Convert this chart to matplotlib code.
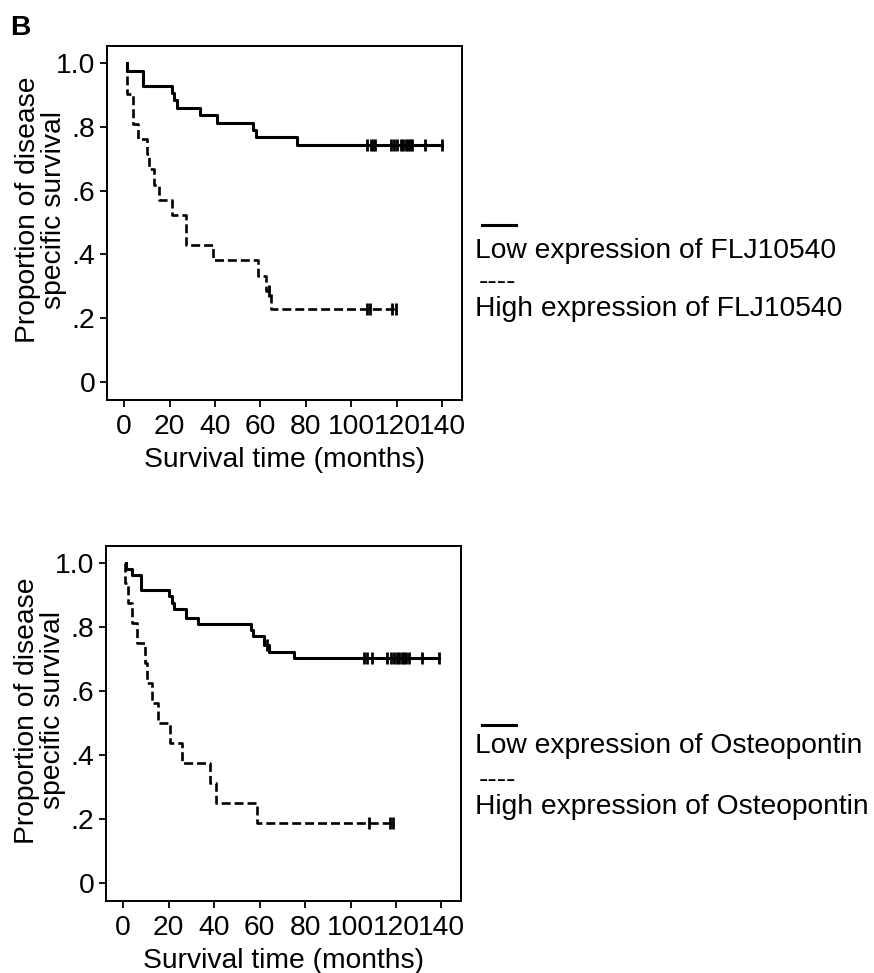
import matplotlib
matplotlib.use('Agg')
from matplotlib import pyplot as plt
from matplotlib.lines import Line2D

plt.rcParams['font.family'] = ['Liberation Sans', 'DejaVu Sans']

# --- data (months, proportion surviving) ---
# top panel: FLJ10540
flj_low_t = [1.2, 1.2, 8.2, 21.0, 22.0, 23.1, 33.4, 40.8, 56.6, 58.1, 75.9, 139.7]
flj_low_s = [1.0, 0.977, 0.930, 0.907, 0.884, 0.860, 0.837, 0.814, 0.791, 0.767, 0.744, 0.744]
flj_low_cens = [106.7, 108.5, 109.5, 110.5, 117.3, 118.8, 120.2, 121.8, 122.8, 123.8,
                124.8, 125.8, 126.8, 132.4, 139.7]
flj_high_t = [1.2, 1.2, 3.8, 6.3, 10.0, 10.8, 13.2, 15.5, 21.0, 27.2, 39.0, 58.8, 62.4, 64.5, 119.5]
flj_high_s = [1.0, 0.905, 0.810, 0.762, 0.714, 0.667, 0.619, 0.571, 0.524, 0.429, 0.381,
              0.333, 0.286, 0.229, 0.229]
flj_high_cens_t = [63.6, 106.8, 108.3, 118.0, 119.5]
flj_high_cens_s = [0.286, 0.229, 0.229, 0.229, 0.229]

# bottom panel: Osteopontin
opn_low_t = [1.2, 1.2, 3.8, 7.8, 20.2, 21.4, 22.4, 27.6, 33.0, 56.1, 57.2, 62.0, 64.0, 75.2, 139.0]
opn_low_s = [1.0, 0.981, 0.962, 0.915, 0.896, 0.877, 0.858, 0.830, 0.811, 0.792, 0.773,
             0.745, 0.723, 0.702, 0.702]
opn_low_cens_t = [63.3, 106.0, 107.4, 109.6, 116.2, 117.7, 119.2, 120.5, 121.5, 122.5,
                  123.5, 124.5, 125.8, 131.6, 139.0]
opn_low_cens_s = [0.745] + [0.702] * 14
opn_high_t = [1.0, 1.0, 2.2, 3.8, 6.3, 9.5, 10.7, 12.9, 15.4, 20.5, 26.1, 38.1, 40.7, 59.1, 119.5]
opn_high_s = [1.0, 0.9375, 0.875, 0.8125, 0.75, 0.6875, 0.625, 0.5625, 0.5, 0.4375, 0.375,
              0.3125, 0.25, 0.1875, 0.1875]
opn_high_cens = [108.2, 117.4, 118.7]

x_ticks = [0, 20, 40, 60, 80, 100, 120, 140]
y_ticks = [0, 0.2, 0.4, 0.6, 0.8, 1.0]
y_ticklabels = ['0', '.2', '.4', '.6', '.8', '1.0']

FS = 20.3
DASH = (3.4, 1.5)


def km_panel(ax, low_t, low_s, low_ct, low_cs, high_t, high_s, high_ct, high_cs):
    ax.step(low_t, low_s, where='post', color='k', lw=2.2)
    ax.plot(low_ct, low_cs, ls='none', marker='|', ms=9, mew=2.0, color='k')
    ax.step(high_t, high_s, where='post', color='k', lw=1.9, dashes=DASH)
    ax.plot(high_ct, high_cs, ls='none', marker='|', ms=9, mew=2.0, color='k')

    ax.set_xlim(-7.5, 148.6)
    ax.set_ylim(-0.056, 1.055)
    ax.set_xticks(x_ticks)
    ax.set_yticks(y_ticks)
    ax.set_yticklabels(y_ticklabels)
    ax.tick_params(direction='out', length=5, width=1.3, labelsize=FS)
    ax.tick_params(axis='x', pad=5)
    ax.tick_params(axis='y', pad=3.5)
    for sp in ax.spines.values():
        sp.set_linewidth(1.4)

    ax.set_xlabel('Survival time (months)', fontsize=FS, va='baseline')
    ax.xaxis.set_label_coords(0.5, -0.19)
    ax.set_ylabel('Proportion of disease\nspecific survival', fontsize=FS, linespacing=1.0)
    ax.yaxis.set_label_coords(-0.113, 0.536)


fig = plt.figure(figsize=(8.74, 9.73), dpi=100)

ax1 = fig.add_axes([0.1224, 0.5892, 0.4062, 0.3638])
km_panel(ax1, flj_low_t, flj_low_s, flj_low_cens, [0.744] * len(flj_low_cens),
         flj_high_t, flj_high_s, flj_high_cens_t, flj_high_cens_s)

ax2 = fig.add_axes([0.1213, 0.0743, 0.4062, 0.3649])
km_panel(ax2, opn_low_t, opn_low_s, opn_low_cens_t, opn_low_cens_s,
         opn_high_t, opn_high_s, opn_high_cens, [0.1875] * len(opn_high_cens))

# panel letter
fig.text(0.0114, 0.964, 'B', fontsize=FS, fontweight='bold', va='baseline')

# legends drawn as text, like the original
def side_legend(y_line, y_low, y_dash, y_high, name):
    fig.add_artist(Line2D([0.5511, 0.5904], [y_line, y_line], transform=fig.transFigure,
                          color='k', lw=2.2))
    fig.text(0.5435, y_low, 'Low expression of ' + name, fontsize=FS, va='baseline')
    fig.text(0.5480, y_dash, '----', fontsize=FS, va='baseline')
    fig.text(0.5435, y_high, 'High expression of ' + name, fontsize=FS, va='baseline')


side_legend(0.7688, 0.7348, 0.7025, 0.6752, 'FLJ10540')
side_legend(0.2549, 0.2261, 0.1912, 0.1634, 'Osteopontin')

fig.savefig('out.png', dpi=100)
